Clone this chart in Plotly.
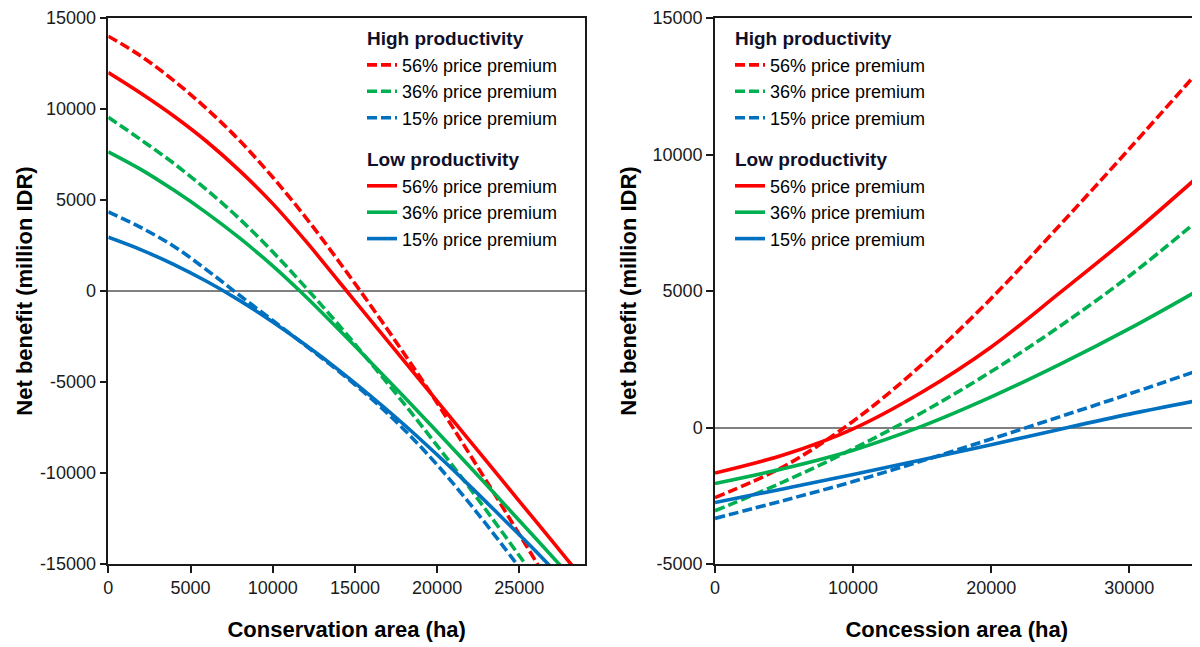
import plotly.graph_objects as go

FONT = "Liberation Sans, Arial, sans-serif"
RED, GREEN, BLUE = "#FF0000", "#00B050", "#0070C0"

# ---------------- Left panel: Conservation area ----------------
cons_x = [0, 2000, 4000, 6000, 8000, 10000, 12000, 14000, 16000, 18000,
          20000, 22000, 24000, 26000, 28000, 30000]
cons_high_56 = [14000, 12900, 11550, 10000, 8250, 6250, 4050, 1650, -850, -3450,
                -6150, -9000, -11900, -14850, -17800]
cons_high_36 = [9550, 8300, 7000, 5550, 3950, 2150, 200, -1850, -4000, -6200,
                -8500, -10850, -13300, -15800]
cons_high_15 = [4350, 3480, 2450, 1150, -250, -1620, -3000, -4400, -5920, -7620,
                -9550, -11700, -14000, -16400]
cons_low_56 = [12000, 10850, 9600, 8200, 6600, 4800, 2750, 550, -1650, -3850,
               -6050, -8250, -10450, -12650, -14850, -17050]
cons_low_36 = [7650, 6670, 5530, 4280, 2900, 1380, -300, -2100, -3950, -5820,
               -7730, -9670, -11630, -13600, -15580]
cons_low_15 = [2950, 2260, 1450, 520, -530, -1700, -2970, -4330, -5800, -7350,
               -9000, -10720, -12500, -14300, -16200]

# ---------------- Right panel: Concession area ----------------
conc_x = [0, 5000, 10000, 15000, 20000, 25000, 30000, 35000]
conc_high_56 = [-2570, -1420, 230, 2310, 4730, 7430, 10210, 13050]
conc_high_36 = [-3050, -1980, -780, 550, 2050, 3720, 5550, 7600]
conc_high_15 = [-3330, -2670, -1980, -1220, -420, 400, 1230, 2090]
conc_low_56 = [-1670, -1000, -50, 1300, 2950, 4950, 7000, 9200]
conc_low_36 = [-2050, -1500, -830, 50, 1120, 2320, 3620, 5030]
conc_low_15 = [-2750, -2240, -1720, -1180, -630, -60, 490, 990]

series_names = ["56% price premium", "36% price premium", "15% price premium"]
group_titles = ["High productivity", "Low productivity"]

# tick labels
left_xticks = [0, 5000, 10000, 15000, 20000, 25000]
left_yticks = [-15000, -10000, -5000, 0, 5000, 10000, 15000]
right_xticks = [0, 10000, 20000, 30000]
right_yticks = [-5000, 0, 5000, 10000, 15000]

x_titles = ["Conservation area (ha)", "Concession area (ha)"]
y_title = "Net benefit (million IDR)"

fig = go.Figure()

gt_font = dict(family=FONT, size=19, color="#10102a", weight="bold")

def add_panel(xs, high, low, xa, ya, legend):
    colors = [RED, GREEN, BLUE]
    for vals, col, name in zip(high, colors, series_names):
        fig.add_trace(go.Scatter(
            x=xs[:len(vals)], y=vals, mode="lines", name=name,
            line=dict(color=col, width=3.6, dash="10px,4px", shape="spline", smoothing=1.0),
            legendgroup="high", legend=legend,
            legendgrouptitle=dict(text=group_titles[0], font=gt_font),
            xaxis=xa, yaxis=ya, hoverinfo="skip"))
    for vals, col, name in zip(low, colors, series_names):
        fig.add_trace(go.Scatter(
            x=xs[:len(vals)], y=vals, mode="lines", name=name,
            line=dict(color=col, width=3.6, shape="spline", smoothing=1.0),
            legendgroup="low", legend=legend,
            legendgrouptitle=dict(text=group_titles[1], font=gt_font),
            xaxis=xa, yaxis=ya, hoverinfo="skip"))

add_panel(cons_x, [cons_high_56, cons_high_36, cons_high_15],
          [cons_low_56, cons_low_36, cons_low_15], "x", "y", "legend")
add_panel(conc_x, [conc_high_56, conc_high_36, conc_high_15],
          [conc_low_56, conc_low_36, conc_low_15], "x2", "y2", "legend2")

tickfont = dict(family=FONT, size=18, color="#1a1a1a")
titlefont = dict(family=FONT, size=22, color="black", weight="bold")
axis_common = dict(showline=True, linecolor="#1a1a1a", linewidth=1.5, mirror=True,
                   ticks="outside", ticklen=7, tickwidth=1.5, tickcolor="#1a1a1a",
                   showgrid=False, tickfont=tickfont, tickmode="array", automargin=False)

# page has an 8px body margin: figure is placed at (8, 8) in the window
W, H, OFF = 1192, 639, 8
def fx(px):
    return (px - OFF) / W
def fy(py):
    return 1 - (py - OFF) / H

YDOM = [fy(564), fy(18)]
legend_common = dict(xanchor="left", yanchor="top", bgcolor="rgba(0,0,0,0)",
                     font=dict(family=FONT, size=18, color="black"),
                     tracegroupgap=14, traceorder="grouped", itemwidth=30)

fig.update_layout(
    template="none",
    width=W, height=H,
    margin=dict(l=0, r=0, t=0, b=0, autoexpand=False),
    paper_bgcolor="white", plot_bgcolor="white",
    showlegend=True,
    xaxis=dict(domain=[fx(108.3), fx(585.1)], range=[0, 29000],
               tickvals=left_xticks, ticktext=[str(v) for v in left_xticks],
               zeroline=False, anchor="y",
               title=dict(text=x_titles[0], font=titlefont, standoff=24), **axis_common),
    yaxis=dict(domain=YDOM, range=[-15000, 15000],
               tickvals=left_yticks, ticktext=[str(v) for v in left_yticks],
               zeroline=True, zerolinecolor="#808080", zerolinewidth=2, anchor="x",
               title=dict(text=y_title, font=titlefont, standoff=1), **axis_common),
    xaxis2=dict(domain=[fx(715), fx(1198.4)], range=[0, 35000],
                tickvals=right_xticks, ticktext=[str(v) for v in right_xticks],
                zeroline=False, anchor="y2",
                title=dict(text=x_titles[1], font=titlefont, standoff=24), **axis_common),
    yaxis2=dict(domain=YDOM, range=[-5000, 15000],
                tickvals=right_yticks, ticktext=[str(v) for v in right_yticks],
                zeroline=True, zerolinecolor="#808080", zerolinewidth=2, anchor="x2",
                title=dict(text=y_title, font=titlefont, standoff=10), **axis_common),
    legend=dict(x=fx(362), y=fy(19), **legend_common),
    legend2=dict(x=fx(730), y=fy(19), **legend_common),
)

fig.write_html("out.html")
